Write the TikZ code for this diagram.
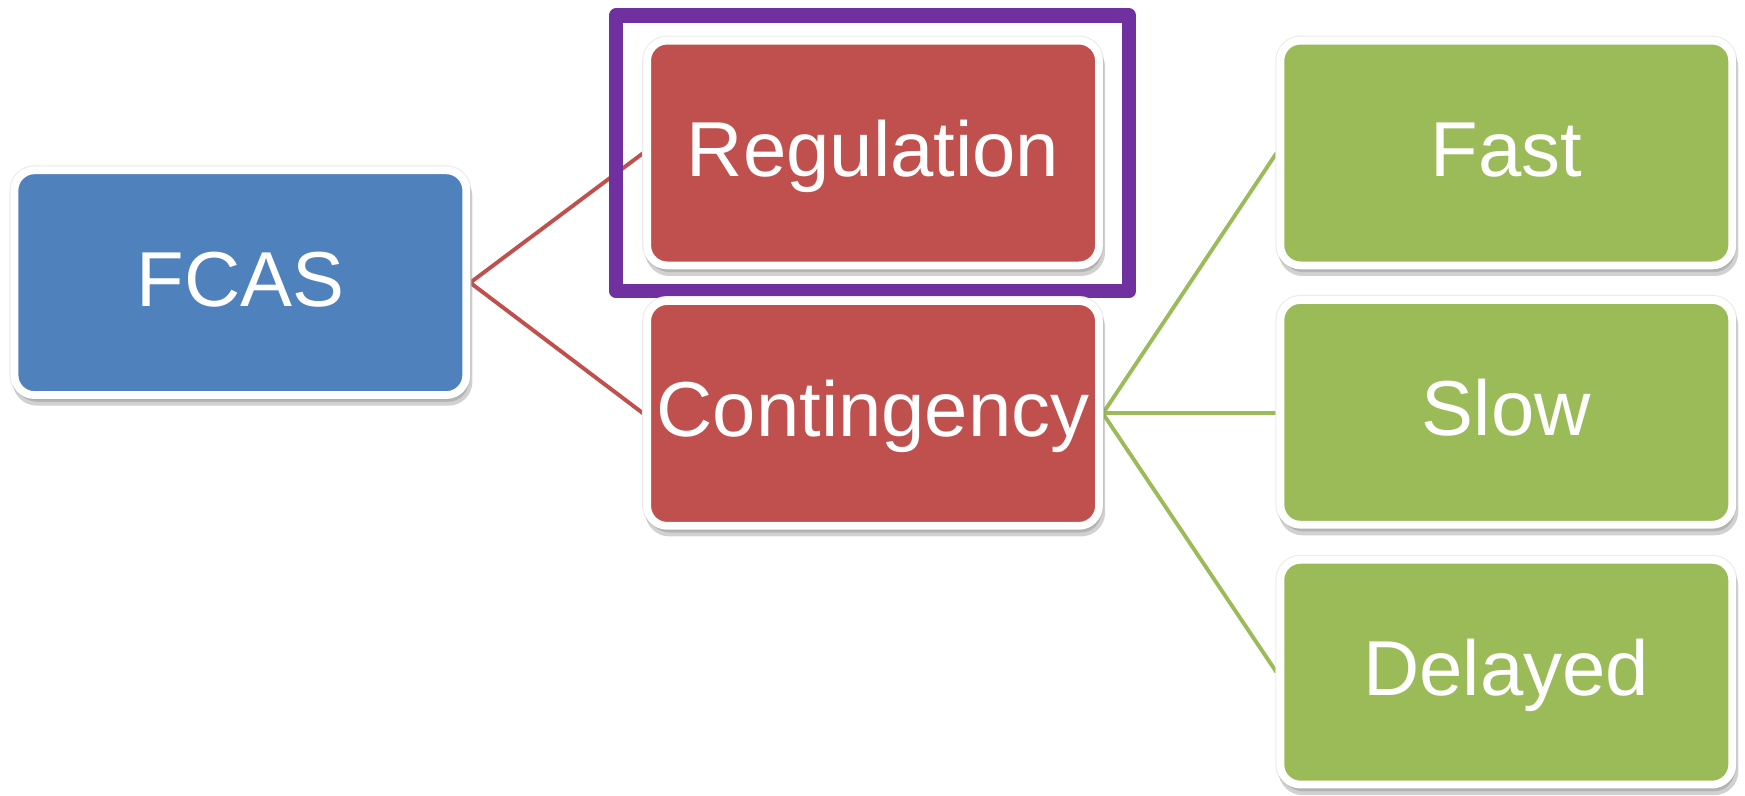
\documentclass[tikz,border=0pt]{standalone}
\usepackage{fontspec}
\setmainfont{Liberation Sans}
\usetikzlibrary{shadows,backgrounds}
\definecolor{cblue}{HTML}{4F81BD}
\definecolor{cred}{HTML}{C0504D}
\definecolor{cgreen}{HTML}{9BBB59}
\definecolor{cpurple}{HTML}{7030A0}
\tikzset{
  box/.style={rectangle, rounded corners=18pt, draw=white, line width=7pt,
    minimum width=406pt, minimum height=202pt, inner sep=0pt,
    text height=50pt, text depth=8pt,
    text=white, font=\fontsize{70}{82}\selectfont,
    preaction={draw=black!8, line width=9pt},
    drop shadow={shadow xshift=2pt, shadow yshift=-6pt, fill=black!45, draw=black!45, line width=7pt, opacity=0.4}},
  bluebox/.style={box, fill=cblue},
  redbox/.style={box, fill=cred},
  greenbox/.style={box, fill=cgreen},
  redline/.style={draw=cred, line width=3.5pt},
  greenline/.style={draw=cgreen, line width=3.5pt},
  selframe/.style={draw=cpurple, line width=13pt, line join=round}
}
\begin{document}
\begin{tikzpicture}[x=1pt,y=-1pt]
\useasboundingbox (0,0) rectangle (1568,714.4);
\node[bluebox]  (fcas) at (216,254)     {FCAS};
\node[redbox]   (reg)  at (784.5,137.5) {Regulation};
\node[redbox]   (cont) at (784.5,371.5) {Contingency};
\node[greenbox] (fast) at (1353.5,137.5) {Fast};
\node[greenbox] (slow) at (1353.5,370.5) {Slow};
\node[greenbox] (del)  at (1353.5,604)   {Delayed};
\begin{scope}[on background layer]
  \draw[redline] (reg.west) -- (fcas.east) -- (cont.west);
  \draw[greenline] (fast.west) -- (cont.east) -- (del.west);
  \draw[greenline] (cont.east) -- (cont.east -| slow.west);
  \draw[selframe] (553.5,14) rectangle (1014.5,261.5);
\end{scope}
\end{tikzpicture}
\end{document}
